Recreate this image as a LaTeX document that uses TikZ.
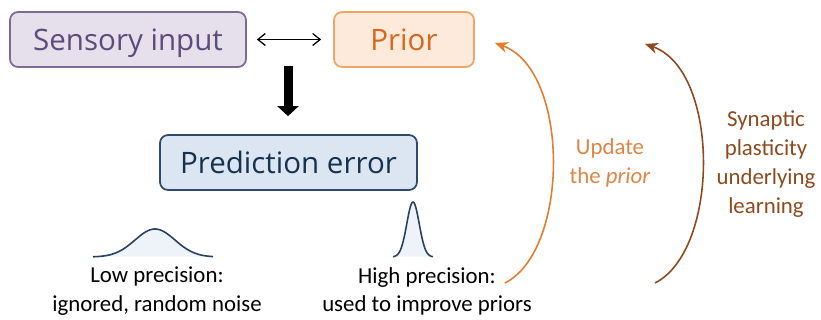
\documentclass[tikz,border=0pt]{standalone}
\usepackage{fontspec}
\setmainfont{Carlito}
\newfontfamily\boxfont{Open Sans}
\usetikzlibrary{arrows.meta}

\definecolor{sensfill}{HTML}{E5E0EC}
\definecolor{sensline}{HTML}{7D6B91}
\definecolor{senstext}{HTML}{5F4B7A}
\definecolor{priorfill}{HTML}{FDEADA}
\definecolor{priorline}{HTML}{F2A462}
\definecolor{priortext}{HTML}{D9661A}
\definecolor{errfill}{HTML}{DCE6F2}
\definecolor{errline}{HTML}{2F4A70}
\definecolor{errtext}{HTML}{17324F}
\definecolor{gaussline}{HTML}{2A3F66}
\definecolor{gaussfill}{HTML}{EEF3FA}
\definecolor{updcol}{HTML}{E47B2E}
\definecolor{updtext}{HTML}{E08444}
\definecolor{syncol}{HTML}{8E4A1E}

\tikzset{
	stage/.style={rounded corners=0.16cm,line width=1pt,minimum height=1.1cm,
		text height=13pt,text depth=0pt,
		font=\boxfont\fontsize{16.8}{20}\selectfont},
	caption/.style={align=center,font=\fontsize{13}{16.4}\selectfont},
	gauss/.style={gaussline,line width=0.9pt},
}

\begin{document}
\begin{tikzpicture}[x=0.02cm,y=-0.02cm]
		
		\useasboundingbox (0,0) rectangle (821,320);
		
		% top row
		\node[stage,draw=sensline,fill=sensfill,text=senstext,minimum width=4.72cm] (sensory) at (128,39.5) {Sensory input};
		\node[stage,draw=priorline,fill=priorfill,text=priortext,minimum width=2.8cm] (prior) at (404,39.5) {Prior};
		\draw[{Straight Barb[length=0.15cm,width=0.24cm]}-{Straight Barb[length=0.15cm,width=0.24cm]},line width=0.7pt,shorten <=0.2cm,shorten >=0.24cm] (sensory) -- (prior);
		
		% prediction error
		\node[stage,draw=errline,fill=errfill,text=errtext,minimum width=5.14cm] (error) at (288.5,162.5) {Prediction error};
		\coordinate (down) at (288,66);
		\draw[line width=0.18cm,-{Triangle[length=0.2cm,width=0.42cm]},shorten >=0.36cm] (down) -- (down |- error.north);
		
		% precision curves
		\fill[gaussfill] plot[domain=93:213,samples=60] (\x,{257-28*exp(-((\x-155)/20)^2/2)}) -- cycle;
		\draw[gauss] plot[domain=93:213,samples=60] (\x,{257-28*exp(-((\x-155)/20)^2/2)});
		\fill[gaussfill] plot[domain=393:433,samples=60] (\x,{257-55*exp(-((\x-413)/6.2)^2/2)}) -- cycle;
		\draw[gauss] plot[domain=393:433,samples=60] (\x,{257-55*exp(-((\x-413)/6.2)^2/2)});
		
		\node[caption] (low) at (157,291.5) {Low precision:\\ignored, random noise};
		\node[caption] (high) at (427,291.5) {High precision:\\used to improve priors};
		
		% feedback loops
		\coordinate (updfrom) at (505,283);
		\coordinate (updto) at (495,43);
		\draw[updcol,line width=0.9pt,-{Stealth[length=0.26cm,width=0.22cm]}] (updfrom) .. controls (570,250) and (570,70) .. (updto);
		\node[caption,text=updtext] (update) at (610,163) {Update\\the \textit{prior}};
		
		\coordinate (synfrom) at (655,283);
		\coordinate (synto) at (645,44);
		\draw[syncol,line width=0.9pt,-{Stealth[length=0.26cm,width=0.22cm]}] (synfrom) .. controls (720,250) and (720,70) .. (synto);
		\node[caption,text=syncol] (synaptic) at (766,164) {Synaptic\\plasticity\\underlying\\learning};
		
	\end{tikzpicture}
\end{document}
